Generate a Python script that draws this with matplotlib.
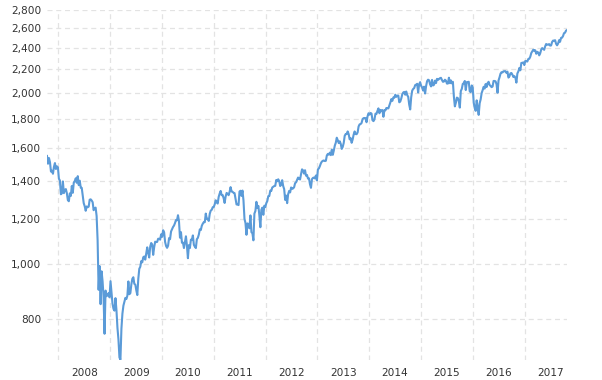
import numpy as np
import pandas as pd
import matplotlib
matplotlib.use("Agg")
import matplotlib.pyplot as plt
import matplotlib.dates as mdates
from matplotlib.ticker import FixedLocator, FuncFormatter, NullFormatter

# weekly closes (Friday)
y2007 = [1548, 1500, 1535, 1509, 1453, 1458, 1440, 1481, 1504, 1468, 1484, 1478]
y2008 = [1411, 1401, 1325, 1330, 1396, 1331, 1349, 1353, 1331, 1294, 1288, 1330, 1316,
         1370, 1333, 1390, 1398, 1414, 1388, 1426, 1375, 1400, 1361, 1360, 1318, 1278,
         1262, 1239, 1261, 1257, 1260, 1296, 1298, 1292, 1283, 1242, 1252, 1255, 1213,
         1099, 899, 990, 848, 969, 931, 873, 752, 896, 876, 879, 887, 872]
y2009 = [931, 890, 850, 832, 826, 869, 827, 770, 735, 683, 677, 768, 816, 843, 857, 870,
         866, 878, 930, 883, 887, 919, 940, 946, 921, 918, 897, 880, 940, 979, 987, 1010,
         1005, 1026, 1029, 1016, 1042, 1068, 1044, 1025, 1071, 1087, 1080, 1036, 1069,
         1093, 1091, 1092, 1106, 1106, 1102, 1126]
y2010 = [1115, 1145, 1136, 1092, 1074, 1066, 1075, 1109, 1104, 1139, 1150, 1160, 1167,
         1179, 1194, 1192, 1217, 1187, 1111, 1136, 1088, 1089, 1065, 1092, 1117, 1076,
         1022, 1078, 1065, 1102, 1102, 1121, 1079, 1071, 1065, 1104, 1110, 1125, 1149,
         1146, 1166, 1176, 1183, 1183, 1225, 1199, 1199, 1189, 1224, 1240, 1244, 1257, 1258]
y2011 = [1272, 1293, 1283, 1276, 1311, 1329, 1343, 1320, 1321, 1304, 1279, 1313, 1332,
         1328, 1320, 1338, 1364, 1340, 1338, 1333, 1331, 1300, 1271, 1272, 1268, 1340,
         1344, 1316, 1345, 1292, 1199, 1179, 1124, 1177, 1174, 1154, 1216, 1136, 1131,
         1099, 1225, 1238, 1285, 1253, 1264, 1216, 1159, 1244, 1255, 1219, 1265, 1258]
y2012 = [1278, 1289, 1315, 1316, 1345, 1343, 1362, 1366, 1370, 1371, 1404, 1397, 1408,
         1398, 1370, 1378, 1403, 1370, 1353, 1295, 1318, 1278, 1325, 1343, 1335, 1362,
         1354, 1357, 1363, 1386, 1391, 1405, 1418, 1411, 1407, 1438, 1466, 1460, 1441,
         1461, 1429, 1433, 1412, 1414, 1380, 1360, 1409, 1416, 1418, 1413, 1430, 1402]
y2013 = [1466, 1472, 1486, 1503, 1513, 1518, 1520, 1516, 1518, 1551, 1561, 1556, 1569,
         1553, 1588, 1555, 1582, 1614, 1633, 1667, 1650, 1631, 1643, 1626, 1593, 1606,
         1632, 1680, 1692, 1692, 1710, 1691, 1656, 1664, 1633, 1655, 1688, 1710, 1692,
         1691, 1703, 1745, 1760, 1762, 1770, 1798, 1805, 1806, 1805, 1775, 1818, 1841]
y2014 = [1831, 1843, 1839, 1790, 1783, 1797, 1838, 1836, 1859, 1878, 1841, 1866, 1857,
         1865, 1815, 1864, 1863, 1881, 1878, 1878, 1900, 1924, 1950, 1936, 1963, 1961,
         1985, 1968, 1978, 1978, 1925, 1931, 1955, 1988, 2003, 2008, 1985, 2011, 1982,
         1968, 1906, 1870, 1965, 2018, 2032, 2039, 2064, 2068, 2075, 2003, 2071, 2089]
y2015 = [2058, 2045, 2019, 2051, 1995, 2055, 2097, 2110, 2105, 2071, 2053, 2108, 2061,
         2067, 2102, 2081, 2117, 2108, 2116, 2123, 2126, 2107, 2092, 2094, 2110, 2102,
         2077, 2077, 2127, 2080, 2104, 2078, 2092, 1971, 1893, 1921, 1962, 1958, 1932,
         1884, 2015, 2033, 2075, 2079, 2099, 2023, 2089, 2090, 2092, 2012, 2006, 2061]
y2016 = [2044, 1922, 1880, 1859, 1940, 1880, 1829, 1918, 1948, 1999, 2022, 2050, 2035,
         2073, 2048, 2081, 2092, 2065, 2057, 2047, 2052, 2099, 2099, 2096, 2071, 2001,
         2103, 2130, 2162, 2175, 2173, 2183, 2184, 2184, 2169, 2180, 2128, 2139, 2165,
         2168, 2153, 2133, 2141, 2126, 2085, 2164, 2182, 2213, 2192, 2259, 2258, 2264, 2239]
y2017 = [2277, 2275, 2271, 2295, 2297, 2316, 2351, 2367, 2383, 2373, 2378, 2344, 2363,
         2356, 2329, 2349, 2384, 2399, 2391, 2382, 2416, 2439, 2432, 2433, 2438, 2423,
         2425, 2459, 2473, 2472, 2477, 2441, 2426, 2443, 2477, 2461, 2500, 2502, 2519,
         2549, 2553, 2575, 2581]

values = np.array(y2007 + y2008 + y2009 + y2010 + y2011 + y2012 + y2013 + y2014
                  + y2015 + y2016 + y2017, dtype=float)
dates = pd.date_range("2007-10-12", periods=len(values), freq="W-FRI")

years = list(range(2008, 2018))
yticks = [800, 1000, 1200, 1400, 1600, 1800, 2000, 2200, 2400, 2600, 2800]

fig = plt.figure(figsize=(6.02, 3.80), dpi=100)
ax = fig.add_axes([47 / 602, 20 / 380, 520 / 602, 350 / 380])

ax.plot(dates, values, color="#5b9bd8", lw=1.5, solid_joinstyle="round")

ax.set_yscale("log")
ax.set_ylim(676, 2800)
ax.set_xlim(dates[0], dates[-1])

ax.yaxis.set_major_locator(FixedLocator(yticks))
ax.yaxis.set_major_formatter(FuncFormatter(lambda v, p: f"{int(round(v)):,}"))
ax.yaxis.set_minor_locator(FixedLocator([]))
ax.yaxis.set_minor_formatter(NullFormatter())

# gridlines on Jan 1, year labels in the middle of each year
jan1 = [mdates.date2num(pd.Timestamp(f"{y}-01-01")) for y in years]
midyear = [mdates.date2num(pd.Timestamp(f"{y}-07-02")) for y in years]
ax.xaxis.set_major_locator(FixedLocator(jan1))
ax.xaxis.set_major_formatter(NullFormatter())
ax.xaxis.set_minor_locator(FixedLocator(midyear))
ax.xaxis.set_minor_formatter(FuncFormatter(lambda v, p: str(mdates.num2date(v).year)))

ax.grid(True, which="major", color="#e3e3e3", linestyle=(0, (4, 3)), linewidth=0.9)
ax.set_axisbelow(True)
for s in ax.spines.values():
    s.set_visible(False)

ax.tick_params(axis="both", which="both", length=0, labelsize=7.6, colors="#333333")
ax.tick_params(axis="y", pad=4)
ax.tick_params(axis="x", which="minor", pad=6)

fig.savefig("out.png", dpi=100)
